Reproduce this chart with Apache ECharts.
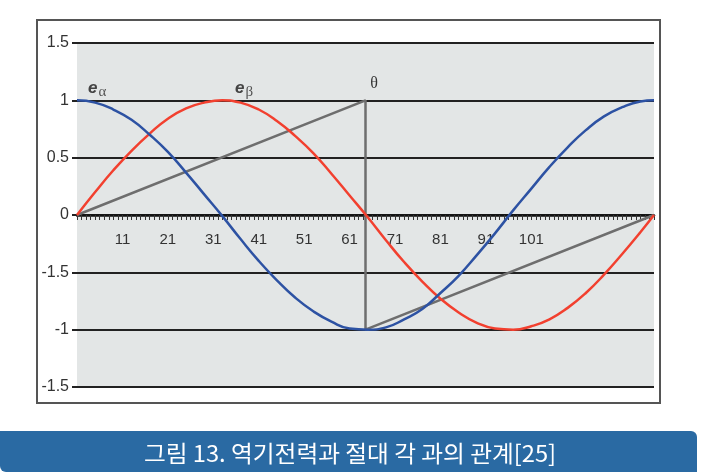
<!DOCTYPE html>
<html><head><meta charset="utf-8">
<script src="https://cdn.jsdelivr.net/npm/echarts@6/dist/echarts.min.js"></script>
<style>html,body{margin:0;padding:0;background:#fff}#c{width:702px;height:472px}</style>
</head><body><div id="c"></div>
<script>
// sample positions (x index) and values
var xs = [1,5,9,13,17,21,25,29,33,37,41,45,49,53,57,61,65,69,73,77,81,85,89,93,97,101,105,109,113,117,121,125,128];
var eAlpha = [1.00,0.98,0.92,0.83,0.70,0.55,0.37,0.18,-0.01,-0.21,-0.40,-0.57,-0.72,-0.84,-0.93,-0.99,-1.00,-0.98,-0.91,-0.82,-0.68,-0.53,-0.35,-0.16,0.04,0.23,0.42,0.59,0.74,0.86,0.94,0.99,1.00];
var eBeta = [0.00,0.20,0.39,0.56,0.71,0.84,0.93,0.98,1.00,0.98,0.92,0.82,0.69,0.54,0.36,0.17,-0.02,-0.22,-0.41,-0.58,-0.73,-0.85,-0.94,-0.99,-1.00,-0.97,-0.91,-0.81,-0.68,-0.52,-0.34,-0.15,0.00];
var thetaX = [1,64.5,64.5,128];
var thetaY = [0,1,-1,0];
var xTickLabels = [11,21,31,41,51,61,71,81,91,101];
var yTicks = [-1.5,-1,-0.5,0,0.5,1,1.5];
var yTickLabels = ['-1.5','-1','-1.5','0','0.5','1','1.5'];
var caption = '그림 13. 역기전력과 절대 각 과의 관계[25]';

function pairs(x, y){ return x.map(function(v,i){ return [v, y[i]]; }); }

var chart = echarts.init(document.getElementById('c'));
chart.setOption({
  animation: false,
  grid: { left: 77, right: 48, top: 43, bottom: 85, show: true, backgroundColor: '#e3e6e6', borderWidth: 0 },
  xAxis: {
    type: 'value', min: 1, max: 128, interval: 1, offset: -172,
    axisLine: { onZero: false, lineStyle: { color: '#111', width: 2.5 } },
    axisTick: { show: true, length: 5, lineStyle: { color: '#333', width: 1 } },
    splitLine: { show: false },
    axisLabel: {
      margin: 17, color: '#333', fontSize: 15, fontFamily: 'Liberation Sans, Arial',
      formatter: function(v){ return xTickLabels.indexOf(v) >= 0 ? String(v) : ''; }
    }
  },
  yAxis: {
    type: 'value', min: -1.5, max: 1.5, interval: 0.5,
    axisLine: { show: false },
    axisTick: { show: true, length: 5, lineStyle: { color: '#222', width: 2 } },
    splitLine: { show: true, lineStyle: { color: '#222', width: 2 } },
    axisLabel: {
      margin: 8, color: '#333', fontSize: 16, fontFamily: 'Liberation Sans, Arial',
      formatter: function(v){ var i = yTicks.indexOf(Math.round(v*10)/10); return i >= 0 ? yTickLabels[i] : ''; }
    }
  },
  series: [
    { type: 'line', data: pairs(thetaX, thetaY), symbol: 'none', lineStyle: { color: '#6e6e6e', width: 2.5 }, z: 3 },
    { type: 'line', data: pairs(xs, eBeta), smooth: true, symbol: 'none', lineStyle: { color: '#f2402f', width: 2.5 }, z: 4 },
    { type: 'line', data: pairs(xs, eAlpha), smooth: true, symbol: 'none', lineStyle: { color: '#2d52a3', width: 2.5 }, z: 5 }
  ],
  graphic: [
    { type: 'rect', shape: { x: 37, y: 20, width: 623, height: 383 }, style: { fill: 'none', stroke: '#555', lineWidth: 2 }, z: 10 },
    { type: 'rect', shape: { x: 0, y: 431, width: 697, height: 41, r: [0, 6, 0, 6] }, style: { fill: '#2a6aa3' }, z: 10 },
    { type: 'text', x: 350, y: 453, style: { text: caption, fill: '#fff', font: '23px "Noto Sans CJK KR"', textAlign: 'center', textVerticalAlign: 'middle' }, scaleX: 1.03, originX: 0, z: 11 },
    { type: 'text', x: 88, y: 88, style: { text: '{e|e}{s|α}', textVerticalAlign: 'middle', rich: { e: { font: 'italic bold 17px "Liberation Sans"', fill: '#444' }, s: { font: '15px "Liberation Serif"', fill: '#555', padding: [8,0,0,1] } } }, z: 11 },
    { type: 'text', x: 235, y: 88, style: { text: '{e|e}{s|β}', textVerticalAlign: 'middle', rich: { e: { font: 'italic bold 17px "Liberation Sans"', fill: '#444' }, s: { font: '15px "Liberation Serif"', fill: '#555', padding: [8,0,0,1] } } }, z: 11 },
    { type: 'text', x: 374, y: 84, style: { text: 'θ', fill: '#333', font: '16px "Liberation Serif"', textAlign: 'center', textVerticalAlign: 'middle' }, z: 11 }
  ]
});
</script></body></html>
